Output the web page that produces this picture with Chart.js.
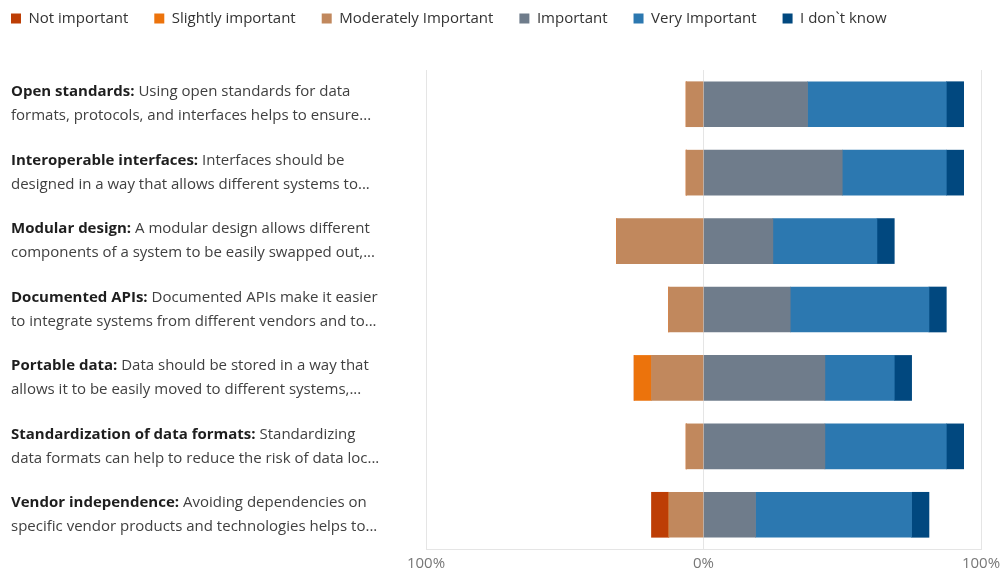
<!DOCTYPE html>
<html>
<head>
<meta charset="utf-8">
<script src="https://cdn.jsdelivr.net/npm/chart.js@4"></script>
<style>
  html, body { margin: 0; padding: 0; background: #fff; }
  #wrap { width: 1001px; height: 572px; }
</style>
</head>
<body>
<div id="wrap"><canvas id="myChart"></canvas></div>
<script>
// categories (bold title + two wrapped lines of description)
let titles = ["Open standards:", "Interoperable interfaces:", "Modular design:", "Documented APIs:",
  "Portable data:", "Standardization of data formats:", "Vendor independence:"];
let line1 = [" Using open standards for data", " Interfaces should be", " A modular design allows different",
  " Documented APIs make it easier", " Data should be stored in a way that", " Standardizing", " Avoiding dependencies on"];
let line2 = ["formats, protocols, and interfaces helps to ensure...",
  "designed in a way that allows different systems to...",
  "components of a system to be easily swapped out,...",
  "to integrate systems from different vendors and to...",
  "allows it to be easily moved to different systems,...",
  "data formats can help to reduce the risk of data loc...",
  "specific vendor products and technologies helps to..."];

// percentages of answers (negative side drawn left of 0)
let notImportant      = [0, 0, 0, 0, 0, 0, 6.25];
let slightlyImportant = [0, 0, 0, 0, 6.25, 0, 0];
let moderately        = [6.25, 6.25, 31.25, 12.5, 18.75, 6.25, 12.5];
let important         = [37.5, 50, 25, 31.25, 43.75, 43.75, 18.75];
let veryImportant     = [50, 37.5, 37.5, 50, 25, 43.75, 56.25];
let dontKnow          = [6.25, 6.25, 6.25, 6.25, 6.25, 6.25, 6.25];

let xTicks = [-100, 0, 100];
let legendOrder = ["Not important", "Slightly important", "Moderately Important", "Important", "Very Important", "I don`t know"];

let neg = v => v.map(x => -x);

let textFont = "'Open Sans', 'Noto Sans', sans-serif";

const labelPlugin = {
  id: 'labelPlugin',
  afterDraw(chart) {
    let ctx = chart.ctx;
    let ys = chart.scales.y;
    ctx.save();
    ctx.textBaseline = 'middle';
    ctx.textAlign = 'left';
    for (let i = 0; i < titles.length; i++) {
      let y = ys.getPixelForValue(i);
      ctx.font = "bold 15px " + textFont;
      ctx.fillStyle = '#1e1e1e';
      ctx.fillText(titles[i], 11, y - 12);
      let w = ctx.measureText(titles[i]).width;
      ctx.font = "15px " + textFont;
      ctx.fillStyle = '#404040';
      ctx.fillText(line1[i], 11 + w, y - 12);
      ctx.fillText(line2[i], 11, y + 12);
    }
    ctx.restore();
  }
};

new Chart("myChart", {
  type: 'bar',
  data: {
    labels: titles,
    datasets: [
      { label: 'Moderately Important', data: neg(moderately), backgroundColor: '#c1885d' },
      { label: 'Slightly important', data: neg(slightlyImportant), backgroundColor: '#ec730c' },
      { label: 'Not important', data: neg(notImportant), backgroundColor: '#bd3e05' },
      { label: 'Important', data: important, backgroundColor: '#6f7c8b' },
      { label: 'Very Important', data: veryImportant, backgroundColor: '#2c78b0' },
      { label: 'I don`t know', data: dontKnow, backgroundColor: '#01487f' }
    ]
  },
  options: {
    indexAxis: 'y',
    responsive: true,
    maintainAspectRatio: false,
    animation: false,
    layout: { padding: { top: -15, right: 0, left: -15, bottom: -7 } },
    datasets: { bar: { barThickness: 45, borderWidth: 0 } },
    plugins: {
      legend: {
        position: 'top',
        align: 'start',
        labels: {
          boxWidth: 10,
          boxHeight: 10,
          padding: 26,
          color: '#333',
          font: { family: textFont, size: 15 },
          sort: (a, b) => legendOrder.indexOf(a.text) - legendOrder.indexOf(b.text)
        }
      },
      tooltip: { enabled: false }
    },
    scales: {
      x: {
        stacked: true,
        min: -100,
        max: 100,
        afterBuildTicks: s => { s.ticks = xTicks.map(v => ({ value: v })); },
        afterFit: s => { s.paddingRight = 20; },
        grid: { color: '#e5e5e5', drawTicks: false },
        border: { color: '#e5e5e5' },
        ticks: {
          color: '#777',
          padding: 6,
          font: { family: textFont, size: 15 },
          callback: v => Math.abs(v) + '%'
        }
      },
      // empty top axis only used as spacer under the legend
      xTop: {
        position: 'top',
        display: true,
        grid: { display: false },
        border: { display: false },
        ticks: { display: false },
        afterFit: s => { s.height = 34; }
      },
      y: {
        stacked: true,
        grid: { display: false },
        border: { display: false },
        ticks: { display: false },
        afterFit: s => { s.width = 441; }
      }
    }
  },
  plugins: [labelPlugin]
});
</script>
</body>
</html>
